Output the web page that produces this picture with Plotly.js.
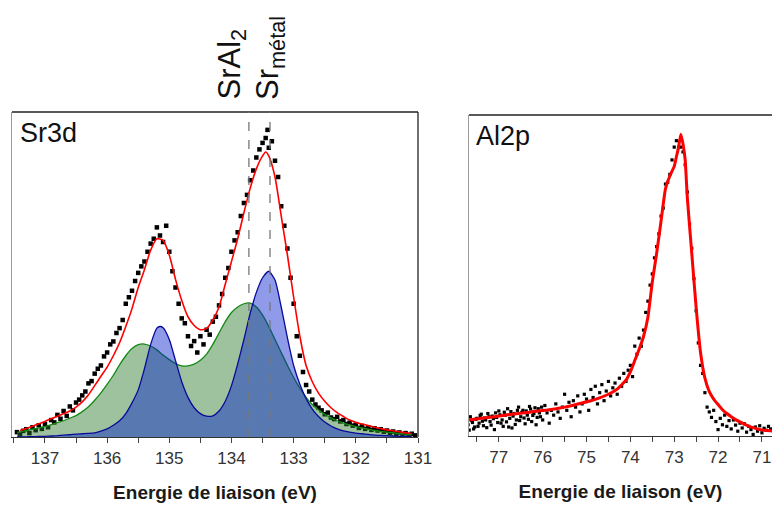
<!DOCTYPE html>
<html>
<head>
<meta charset="utf-8">
<script src="https://cdn.plot.ly/plotly-3.0.1.min.js"></script>
<style>html,body{margin:0;padding:0;background:#fff;}#chart{width:772px;height:506px;}</style>
</head>
<body>
<div id="chart"></div>
<script>
// ---------- Sr3d panel ----------
const srFitX = [137.4,137.3,137.2,137.1,137.0,136.9,136.8,136.7,136.6,136.5,136.4,136.3,136.2,136.1,136.0,135.9,135.8,135.7,135.6,135.5,135.4,135.3,135.2,135.1,135.0,134.9,134.8,134.7,134.6,134.5,134.4,134.3,134.2,134.1,134.0,133.9,133.8,133.7,133.6,133.5,133.45,133.4,133.3,133.2,133.1,133.0,132.9,132.8,132.7,132.6,132.5,132.4,132.3,132.2,132.1,132.0,131.9,131.8,131.7,131.6,131.5,131.4,131.3,131.2,131.1];
const srFitY = [2.0,2.6,3.3,4.1,4.8,5.6,6.4,7.2,8.0,9.2,10.8,13.0,15.8,18.7,21.5,25,29,34,39.5,46,51.5,57.5,61,60.5,56,48.5,42,37,34.3,33,33.4,36,40,47,54,61,69,76.5,82.5,86.5,87.7,86.5,80,68,56,43,31,22,17,13.5,11,9,7.5,6.3,5.2,4.5,4.0,3.5,3.0,2.6,2.2,1.9,1.6,1.3,1.1];

const srGreenX = [137.45,137.4,137.3,137.2,137.1,137.0,136.9,136.8,136.7,136.6,136.5,136.4,136.3,136.2,136.1,136.0,135.9,135.8,135.7,135.6,135.5,135.4,135.3,135.2,135.1,135.0,134.9,134.8,134.7,134.6,134.5,134.4,134.3,134.2,134.1,134.0,133.9,133.8,133.7,133.6,133.5,133.4,133.3,133.2,133.1,133.0,132.9,132.8,132.7,132.6,132.5,132.4,132.3,132.2,132.1,132.0,131.9,131.8,131.7,131.6,131.5,131.4,131.3,131.2,131.1];
const srGreenY = [1.4,1.6,2.0,2.4,2.8,3.2,3.8,4.4,5.0,5.8,6.6,7.8,9.3,11.3,13.6,16.2,19,22.2,25,27.2,28.4,28.6,28,26.8,25.2,23.8,22.6,21.9,21.9,22.4,23.6,25.5,28.5,32,35.5,38.3,40,41,41.2,40,37.5,34,30,26,22,18.3,15,12.2,10,8.3,7,5.9,5.0,4.3,3.7,3.2,2.8,2.4,2.0,1.7,1.5,1.3,1.1,0.9,0.8];

const srBlueX = [137.45,137.4,137.3,137.2,137.1,137.0,136.9,136.8,136.7,136.6,136.5,136.4,136.3,136.2,136.1,136.0,135.9,135.8,135.7,135.6,135.5,135.4,135.3,135.2,135.15,135.1,135.0,134.9,134.8,134.7,134.6,134.5,134.4,134.3,134.2,134.1,134.0,133.9,133.8,133.7,133.6,133.5,133.4,133.3,133.2,133.1,133.0,132.9,132.8,132.7,132.6,132.5,132.4,132.3,132.2,132.1,132.0,131.9,131.8,131.7,131.6,131.5,131.4,131.3,131.2,131.1];
const srBlueY = [0.0,0.0,0.05,0.1,0.15,0.2,0.3,0.4,0.55,0.7,0.9,1.0,1.1,1.3,1.8,2.5,3.6,5.0,7.2,10.5,14.5,21,28.5,33.5,34,33.6,30,23.5,17,12.2,9,7.2,6.4,6.5,8.0,11,15.8,22.5,30,38,44.5,49,51,48.3,40,30.5,22,16.2,11.8,8.6,6.3,4.6,3.4,2.5,1.9,1.5,1.2,1.0,0.8,0.6,0.5,0.4,0.3,0.2,0.15,0.1];

const srDataX = [137.45,137.40,137.35,137.30,137.25,137.20,137.15,137.10,137.05,137.00,136.95,136.90,136.85,136.80,136.75,136.70,136.65,136.60,136.55,136.50,136.45,136.40,136.35,136.30,136.25,136.20,136.15,136.10,136.05,136.00,135.95,135.90,135.85,135.80,135.75,135.70,135.65,135.60,135.55,135.50,135.45,135.40,135.35,135.30,135.25,135.20,135.15,135.10,135.05,135.00,134.95,134.90,134.85,134.80,134.75,134.70,134.65,134.60,134.55,134.50,134.45,134.40,134.35,134.30,134.25,134.20,134.15,134.10,134.05,134.00,133.95,133.90,133.85,133.80,133.75,133.70,133.65,133.60,133.55,133.50,133.45,133.42,133.40,133.35,133.30,133.25,133.20,133.15,133.10,133.05,133.00,132.95,132.90,132.85,132.80,132.75,132.70,132.65,132.60,132.55,132.50,132.45,132.40,132.35,132.30,132.25,132.20,132.15,132.10,132.05,132.00,131.95,131.90,131.85,131.80,131.75,131.70,131.65,131.60,131.55,131.50,131.45,131.40,131.35,131.30,131.25,131.20,131.15,131.10,131.05];
const srDataY = [1.5,0.8,1.9,2.4,1.2,3.0,2.1,3.6,2.5,4.0,3.0,5.2,4.5,6.8,5.6,8.0,6.5,9.4,8.2,10.6,11.5,12.8,14.0,16.5,17.2,19.5,21.0,22.0,24.8,26.0,28.5,29.4,32.0,33.5,36.0,41.0,43.0,45.0,48.0,50.5,52.5,54.0,57.0,59.5,61.0,64.5,62.0,60.0,65.0,57.0,51.0,46.0,41.0,36.5,35.0,31.0,28.0,29.5,26.0,31.0,28.5,33.0,31.5,35.5,37.0,40.5,44.0,49.0,52.0,57.0,60.5,63.0,68.0,72.0,74.5,79.0,82.0,86.0,88.5,90.5,92.0,94.5,89.0,91.0,85.0,80.0,71.0,65.0,58.0,49.0,41.0,31.0,25.0,20.0,16.0,14.0,11.5,10.0,9.0,8.2,7.0,7.5,6.0,5.5,6.2,4.8,5.2,4.0,4.4,3.5,3.8,2.8,3.4,2.5,3.0,2.2,2.7,2.0,2.4,1.6,2.0,1.2,1.7,0.9,1.4,0.8,1.2,0.6,1.0,0.5];

const refLinesX = [133.72, 133.38];

// ---------- Al2p panel ----------
const alFitX = [77.7,77.5,77.3,77.1,76.9,76.7,76.5,76.3,76.1,75.9,75.7,75.5,75.3,75.1,74.9,74.7,74.5,74.3,74.1,74.0,73.9,73.8,73.7,73.6,73.5,73.4,73.3,73.2,73.1,73.0,72.95,72.9,72.85,72.8,72.75,72.7,72.6,72.5,72.4,72.3,72.2,72.1,72.0,71.9,71.8,71.7,71.6,71.5,71.4,71.3,71.2,71.1,71.0,70.9,70.8,70.7];
const alFitY = [5.0,5.3,5.7,6.0,6.4,6.8,7.1,7.4,7.8,8.1,8.5,9.0,9.6,10.3,11.0,11.9,13.0,14.6,17.4,20.0,23.5,27,31,37,48,57,67,77,81,84,87,90,94,91,86,74,57,40,26,18,13.8,11.5,9.8,8.2,7.0,6.0,5.1,4.4,3.7,3.1,2.6,2.2,1.9,1.7,1.6,1.5];

const alDataX = [77.70,77.675,77.65,77.625,77.60,77.575,77.55,77.525,77.50,77.475,77.45,77.425,77.40,77.375,77.35,77.325,77.30,77.275,77.25,77.225,77.20,77.175,77.15,77.125,77.10,77.075,77.05,77.025,77.00,76.975,76.95,76.925,76.90,76.875,76.85,76.825,76.80,76.775,76.75,76.725,76.70,76.675,76.65,76.625,76.60,76.575,76.55,76.525,76.50,76.475,76.45,76.425,76.40,76.375,76.35,76.325,76.30,76.275,76.25,76.225,76.20,76.175,76.15,76.125,76.10,76.075,76.05,76.025,76.00,75.95,75.90,75.85,75.80,75.75,75.70,75.65,75.60,75.55,75.50,75.45,75.40,75.35,75.30,75.25,75.20,75.15,75.10,75.05,75.00,74.95,74.90,74.85,74.80,74.75,74.70,74.65,74.60,74.55,74.50,74.45,74.40,74.35,74.30,74.25,74.20,74.15,74.10,74.05,74.00,73.95,73.90,73.85,73.80,73.75,73.70,73.65,73.60,73.55,73.50,73.45,73.40,73.35,73.30,73.25,73.20,73.15,73.10,73.05,73.00,72.95,72.90,72.85,72.80,72.75,72.70,72.65,72.60,72.55,72.50,72.45,72.40,72.35,72.30,72.25,72.20,72.15,72.10,72.05,72.00,71.95,71.90,71.85,71.80,71.75,71.70,71.65,71.60,71.55,71.50,71.45,71.40,71.35,71.30,71.25,71.20,71.15,71.10,71.05,71.00,70.95,70.90,70.85,70.80];
const alDataY = [3.5,1.8,6.0,4.8,4.2,2.2,2.8,5.2,5.5,3.0,4.0,6.4,6.8,4.6,3.2,5.6,5.0,2.6,7.0,6.0,4.5,3.4,6.2,5.4,2.0,7.2,5.8,4.2,7.8,6.6,4.0,5.0,3.0,7.4,6.5,4.4,8.5,2.8,5.5,7.6,2.5,6.2,7.0,3.6,5.0,8.0,9.0,4.8,6.0,7.4,8.0,5.6,3.8,7.8,6.5,5.2,9.2,8.4,4.5,6.4,7.0,8.8,3.5,5.8,8.5,7.2,6.0,9.0,5.0,9.5,7.2,4.0,8.0,6.5,10.0,7.5,5.5,9.0,13.0,8.0,10.5,6.0,11.0,9.0,12.5,7.5,10.0,13.0,11.5,8.0,14.5,12.0,15.5,10.0,13.5,16.0,11.0,14.0,17.0,12.5,15.0,16.5,13.0,18.0,15.5,19.5,17.0,20.5,22.0,18.5,28.0,25.5,30.5,28.0,33.0,38.5,42.0,47.0,50.5,55.5,59.0,63.0,68.5,71.0,78.5,79.0,81.5,86.0,90.0,92.0,90.0,90.0,88.5,84.5,76.0,66.0,58.5,49.0,39.0,29.0,22.0,19.5,13.5,9.0,7.5,5.8,8.0,4.5,2.0,5.5,3.5,6.5,3.0,4.8,2.2,5.0,3.4,1.5,4.0,2.5,3.8,1.2,3.0,2.0,0.5,2.8,1.5,3.2,1.0,2.4,1.8,3.0,2.2];

const srTicks = [137,136,135,134,133,132,131];
const alTicks = [77,76,75,74,73,72,71];
const xTitle = 'Energie de liaison (eV)';

const W = 772, H = 506;
// pixel boxes of the two frames
const L1 = 12, R1 = 418, T1 = 112, B1 = 437;
const L2 = 469, R2 = 772, T2 = 115, B2 = 436;

const traces = [
  {x: srDataX, y: srDataY, xaxis: 'x', yaxis: 'y', mode: 'markers', type: 'scatter',
   marker: {symbol: 'square', size: 4.5, color: '#000'}, hoverinfo: 'skip'},
  {x: srGreenX, y: srGreenY, xaxis: 'x', yaxis: 'y', mode: 'lines', type: 'scatter',
   line: {color: '#138a13', width: 1.3, shape: 'spline', smoothing: 0.6},
   fill: 'tozeroy', fillcolor: 'rgba(40,120,40,0.45)', hoverinfo: 'skip'},
  {x: srBlueX, y: srBlueY, xaxis: 'x', yaxis: 'y', mode: 'lines', type: 'scatter',
   line: {color: '#0a0a9a', width: 1.3, shape: 'spline', smoothing: 0.6},
   fill: 'tozeroy', fillcolor: 'rgba(0,25,205,0.44)', hoverinfo: 'skip'},
  {x: srFitX, y: srFitY, xaxis: 'x', yaxis: 'y', mode: 'lines', type: 'scatter',
   line: {color: '#ff0000', width: 1.6, shape: 'spline', smoothing: 0.6}, hoverinfo: 'skip'},
  {x: alDataX, y: alDataY, xaxis: 'x2', yaxis: 'y2', mode: 'markers', type: 'scatter',
   marker: {symbol: 'square', size: 3.2, color: '#000'}, hoverinfo: 'skip'},
  {x: alFitX, y: alFitY, xaxis: 'x2', yaxis: 'y2', mode: 'lines', type: 'scatter',
   line: {color: '#ff0000', width: 3, shape: 'spline', smoothing: 0.4}, hoverinfo: 'skip'}
];

const tickFont = {family: 'Liberation Sans, Arial, sans-serif', size: 17, color: '#333'};
const titleFont = {family: 'Liberation Sans, Arial, sans-serif', size: 19, color: '#1a1a1a', weight: 'bold'};

function xax(L, R, range, ticks) {
  return {
    domain: [L / W, R / W], range: range, tickmode: 'array', tickvals: ticks,
    ticktext: ticks.map(String), ticks: 'outside', ticklen: 5, tickwidth: 1, tickcolor: '#444',
    minor: {dtick: 0.5, ticks: 'outside', ticklen: 5, tickwidth: 1, tickcolor: '#444', showgrid: false},
    showline: true, linecolor: '#333', linewidth: 1.2, mirror: false, showgrid: false, zeroline: false,
    tickfont: tickFont, title: {text: xTitle, font: titleFont, standoff: 19}, fixedrange: true
  };
}
function yax(T, B, anchor) {
  return {
    domain: [(H - B) / H, (H - T) / H], range: [0, 100], showticklabels: false, ticks: '',
    showline: true, linecolor: '#999', linewidth: 1.5, showgrid: false, zeroline: false,
    anchor: anchor, fixedrange: true
  };
}

const layout = {
  width: W, height: H, margin: {l: 0, r: 0, t: 0, b: 0},
  paper_bgcolor: '#fff', plot_bgcolor: '#fff', showlegend: false,
  font: {family: 'Liberation Sans, Arial, sans-serif'},
  xaxis: Object.assign(xax(L1, R1, [137.53, 131.0], srTicks), {anchor: 'y'}),
  yaxis: yax(T1, B1, 'x'),
  xaxis2: Object.assign(xax(L2, R2, [77.68, 70.77], alTicks), {anchor: 'y2'}),
  yaxis2: yax(T2, B2, 'x2'),
  shapes: [
    {type: 'line', xref: 'x domain', yref: 'y domain', x0: 0, x1: 1, y0: 1, y1: 1, line: {color: '#222', width: 1.3}},
    {type: 'line', xref: 'x domain', yref: 'y domain', x0: 1, x1: 1, y0: 0, y1: 1, line: {color: '#222', width: 1.3}},
    {type: 'line', xref: 'x2 domain', yref: 'y2 domain', x0: 0, x1: 1, y0: 1, y1: 1, line: {color: '#222', width: 1.3}},
    ...refLinesX.map(v => ({type: 'line', xref: 'x', yref: 'y domain', x0: v, x1: v, y0: 0, y1: 1,
      line: {color: '#777', width: 1.3, dash: 'dash'}}))
  ],
  annotations: [
    {xref: 'paper', yref: 'paper', x: 18 / W, y: (H - 116) / H, xanchor: 'left', yanchor: 'top',
     text: 'Sr3d', showarrow: false, font: {family: 'Liberation Sans, Arial, sans-serif', size: 27, color: '#111'}},
    {xref: 'paper', yref: 'paper', x: 474 / W, y: (H - 119) / H, xanchor: 'left', yanchor: 'top',
     text: 'Al2p', showarrow: false, font: {family: 'Liberation Sans, Arial, sans-serif', size: 27, color: '#111'}},
    {xref: 'paper', yref: 'paper', x: 232 / W, y: (H - 102) / H, xanchor: 'center', yanchor: 'bottom',
     textangle: -90, text: 'SrAl<sub>2</sub>', showarrow: false,
     font: {family: 'Liberation Sans, Arial, sans-serif', size: 31, color: '#111'}},
    {xref: 'paper', yref: 'paper', x: 270 / W, y: (H - 102) / H, xanchor: 'center', yanchor: 'bottom',
     textangle: -90, text: 'Sr<sub>métal</sub>', showarrow: false,
     font: {family: 'Liberation Sans, Arial, sans-serif', size: 31, color: '#111'}}
  ]
};

Plotly.newPlot('chart', traces, layout, {staticPlot: true, displayModeBar: false});
</script>
</body>
</html>
